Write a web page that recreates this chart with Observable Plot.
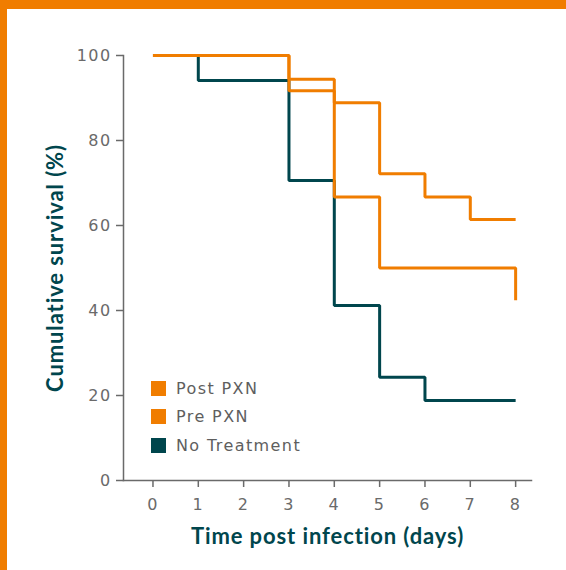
<!DOCTYPE html>
<html>
<head>
<meta charset="utf-8">
<script src="https://cdn.jsdelivr.net/npm/d3@7"></script>
<script src="https://cdn.jsdelivr.net/npm/@observablehq/plot@0.6"></script>
<style>
  html, body { margin: 0; padding: 0; background: #fff; }
  #wrap { position: relative; width: 566px; height: 570px; overflow: hidden; font-family: "DejaVu Sans", sans-serif; }
  #wrap svg { position: absolute; left: 0; top: 0; }
  .band { position: absolute; background: #F07D00; }
  #legend { position: absolute; left: 151px; top: 374px; }
  .item { display: flex; align-items: center; height: 28.5px; font-size: 16px; letter-spacing: 1.4px; color: #5e5e5e; }
  .sw { width: 15px; height: 15px; margin-right: 10px; }
</style>
</head>
<body>
<div id="wrap"></div>
<script>
const days = [0, 1, 2, 3, 4, 5, 6, 7, 8];
const yTicks = [0, 20, 40, 60, 80, 100];
const seriesNames = ["Post PXN", "Pre PXN", "No Treatment"];
const seriesColors = ["#F07D00", "#F07D00", "#00464D"];

// step points: [day, survival %]
const postPXN = [[0, 100], [3, 94.4], [4, 88.9], [5, 72.2], [6, 66.7], [7, 61.4], [8, 61.4]];
const prePXN = [[0, 100], [3, 91.7], [4, 66.7], [5, 50], [8, 42.4]];
const noTreatment = [[0, 100], [1, 94.1], [3, 70.6], [4, 41.2], [5, 24.3], [6, 18.8], [8, 18.8]];

const xTitle = "Time post infection (days)";
const yTitle = "Cumulative survival (%)";

const toRows = (arr, name) => arr.map(([d, s]) => ({day: d, surv: s, series: name}));
const rows = [
  ...toRows(noTreatment, "No Treatment"),
  ...toRows(prePXN, "Pre PXN"),
  ...toRows(postPXN, "Post PXN")
];

const grey = "#6a6a6a";
const teal = "#00464D";

const chart = Plot.plot({
  width: 566,
  height: 570,
  marginLeft: 123,
  marginRight: 35,
  marginTop: 55,
  marginBottom: 90,
  style: {fontFamily: "'DejaVu Sans', sans-serif", fontSize: "16px", background: "transparent", letterSpacing: "1.4px"},
  x: {domain: [-0.65, 8.35]},
  y: {domain: [0, 100]},
  color: {domain: seriesNames, range: seriesColors},
  marks: [
    Plot.frame({anchor: "left", stroke: grey, strokeWidth: 1.5, strokeOpacity: 1}),
    Plot.frame({anchor: "bottom", stroke: grey, strokeWidth: 1.5, strokeOpacity: 1}),
    Plot.axisY(yTicks, {tickSize: 7, tickPadding: 5, color: grey, label: null, fontSize: 16, strokeWidth: 1.5}),
    Plot.axisX(days, {tickSize: 7, tickPadding: 11, color: grey, label: null, fontSize: 16, strokeWidth: 1.5}),
    Plot.line(rows, {x: "day", y: "surv", z: "series", stroke: "series", curve: "step-after", strokeWidth: 3, strokeLinejoin: "miter", strokeLinecap: "butt"}),
    Plot.text([xTitle], {frameAnchor: "bottom", lineAnchor: "middle", textAnchor: "middle", dy: 56, fontSize: 22, fontWeight: "bold", fontFamily: "Lato, sans-serif", fill: teal}),
    Plot.text([yTitle], {frameAnchor: "left", lineAnchor: "middle", textAnchor: "middle", dx: -68, rotate: -90, fontSize: 22, fontWeight: "bold", fontFamily: "Lato, sans-serif", fill: teal})
  ]
});

d3.select(chart).selectAll('g[aria-label="text"] text').style("letter-spacing", "0.9px");

const wrap = document.getElementById("wrap");
wrap.appendChild(chart);

const bandTop = document.createElement("div");
bandTop.className = "band";
Object.assign(bandTop.style, {left: "0px", top: "0px", width: "566px", height: "9px"});
wrap.appendChild(bandTop);
const bandLeft = document.createElement("div");
bandLeft.className = "band";
Object.assign(bandLeft.style, {left: "0px", top: "0px", width: "7px", height: "570px"});
wrap.appendChild(bandLeft);

const legend = document.createElement("div");
legend.id = "legend";
seriesNames.forEach((n, i) => {
  const it = document.createElement("div");
  it.className = "item";
  const sw = document.createElement("span");
  sw.className = "sw";
  sw.style.background = seriesColors[i];
  const lb = document.createElement("span");
  lb.textContent = n;
  it.appendChild(sw);
  it.appendChild(lb);
  legend.appendChild(it);
});
wrap.appendChild(legend);
</script>
</body>
</html>
